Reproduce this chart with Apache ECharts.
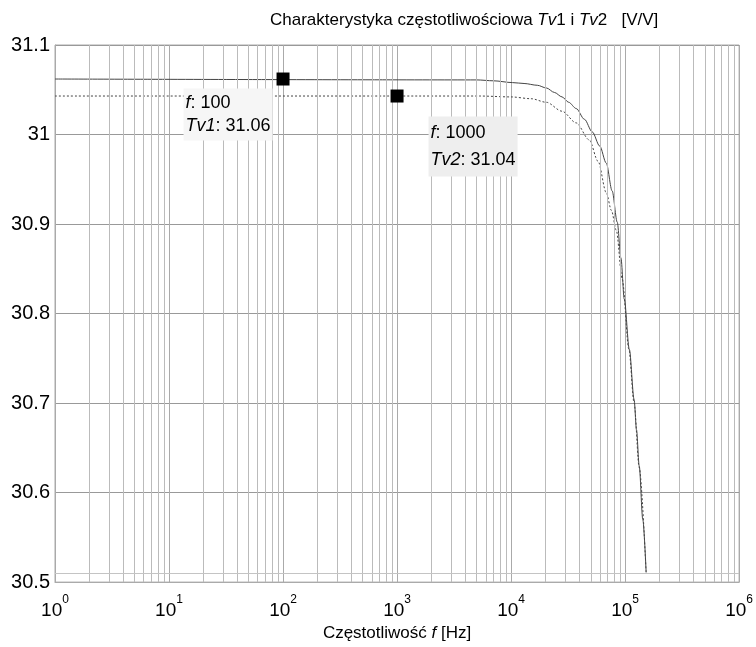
<!DOCTYPE html>
<html>
<head>
<meta charset="utf-8">
<script src="https://cdn.jsdelivr.net/npm/echarts@6/dist/echarts.min.js"></script>
<style>
  html, body { margin: 0; padding: 0; background: #fff; }
  #chart { width: 756px; height: 647px; }
</style>
</head>
<body>
<div id="chart"></div>
<script>
// Frequency response of the two amplifier stages, gain in V/V
const freqTv1 = [1, 5000, 7000, 10300, 13000, 17000, 20400, 24000, 28000, 32000, 37300, 44000, 51500, 60000, 68400, 77000, 85400, 92000, 98400, 109000, 120000, 126000, 133000, 143000, 153000];
const gainTv1 = [31.062, 31.061, 31.060, 31.058, 31.057, 31.055, 31.052, 31.047, 31.042, 31.036, 31.029, 31.017, 31.003, 30.987, 30.968, 30.937, 30.902, 30.862, 30.816, 30.760, 30.704, 30.670, 30.630, 30.570, 30.511];

const freqTv2 = [1, 5300, 10000, 15000, 20400, 28000, 37300, 48500, 58000, 68400, 76000, 83700, 94500, 108000, 120000, 133000, 153000];
const gainTv2 = [31.043, 31.043, 31.042, 31.040, 31.036, 31.026, 31.013, 30.994, 30.970, 30.935, 30.915, 30.893, 30.838, 30.760, 30.700, 30.628, 30.510];

// Data tips: [frequency, gain, series label]
const tipTv1 = [100, 31.062, 'Tv1'];
const tipTv2 = [1000, 31.043, 'Tv2'];

// Axis ticks
const decadeExponents = [0, 1, 2, 3, 4, 5, 6];
const gainMin = 30.5, gainMax = 31.1, gainStep = 0.1;
const refLevel = 30.514;

// Intermediate log grid lines (2..9 within each decade)
const minorFreqs = [];
decadeExponents.slice(0, -1).forEach(e => {
  for (let m = 2; m <= 9; m++) minorFreqs.push(m * Math.pow(10, e));
});

const FONT = '"Liberation Sans", Arial, Helvetica, sans-serif';
const chart = echarts.init(document.getElementById('chart'), null, { renderer: 'canvas' });

function tipLabel(pos, bg, lh) {
  return {
    show: true,
    position: pos,
    fontFamily: FONT,
    fontSize: 18,
    color: '#000',
    lineHeight: lh,
    backgroundColor: bg,
    padding: [3, 2, 3, 2],
    formatter: p => `{i|f}: ${p.value[0]}\n{i|${p.value[2]}}: ${p.value[1].toFixed(2)}`,
    rich: {
      i: { fontStyle: 'italic', fontFamily: FONT, fontSize: 18, color: '#000', lineHeight: lh }
    }
  };
}

const option = {
  animation: false,
  backgroundColor: '#ffffff',
  title: {
    text: 'Charakterystyka częstotliwościowa {i|Tv}1 i {i|Tv}2   [V/V]',
    left: 265,
    top: 7,
    textStyle: {
      fontFamily: FONT, fontSize: 17, fontWeight: 'normal', color: '#000',
      rich: { i: { fontFamily: FONT, fontSize: 17, fontStyle: 'italic', color: '#000' } }
    }
  },
  grid: {
    left: 55, right: 16, top: 45, bottom: 64,
    show: true, borderColor: '#aaa', borderWidth: 1
  },
  xAxis: {
    type: 'log',
    logBase: 10,
    min: 1,
    max: 1e6,
    name: 'Częstotliwość {i|f} [Hz]',
    nameLocation: 'middle',
    nameGap: 42,
    nameTextStyle: {
      fontFamily: FONT, fontSize: 17, color: '#000',
      rich: { i: { fontFamily: FONT, fontSize: 17, fontStyle: 'italic', color: '#000' } }
    },
    axisLine: { show: true, lineStyle: { color: '#aaa', width: 1 } },
    axisTick: { show: false },
    splitLine: { show: true, lineStyle: { color: '#aaa', width: 1 } },
    axisLabel: {
      margin: 12,
      formatter: v => {
        const e = Math.round(Math.log10(v));
        return '{b|10}{s|' + e + '}';
      },
      rich: {
        b: { fontFamily: FONT, fontSize: 19, color: '#000', lineHeight: 26, verticalAlign: 'bottom' },
        s: { fontFamily: FONT, fontSize: 12, color: '#000', lineHeight: 26, verticalAlign: 'top' }
      }
    }
  },
  yAxis: {
    type: 'value',
    min: gainMin,
    max: gainMax,
    interval: gainStep,
    axisLine: { show: true, lineStyle: { color: '#aaa', width: 1 } },
    axisTick: { show: false },
    splitLine: { show: true, lineStyle: { color: '#999', width: 1 } },
    axisLabel: {
      margin: 5,
      fontFamily: FONT,
      fontSize: 20,
      color: '#000',
      formatter: v => String(+v.toFixed(1))
    }
  },
  series: [
    {
      // intermediate grid lines and the reference level
      type: 'line',
      data: [],
      z: 1,
      silent: true,
      markLine: {
        silent: true,
        symbol: 'none',
        label: { show: false },
        animation: false,
        lineStyle: { color: '#bbb', type: 'solid', width: 1 },
        data: minorFreqs.map(f => ({ xAxis: f }))
          .concat([{ yAxis: refLevel, lineStyle: { color: '#c4c4c4', type: 'solid', width: 1 } }])
      }
    },
    {
      name: 'Tv1',
      type: 'line',
      z: 3,
      data: freqTv1.map((f, i) => [f, gainTv1[i]]),
      showSymbol: false,
      clip: true,
      smooth: 0.3,
      smoothMonotone: 'x',
      lineStyle: { color: '#444', width: 1, type: 'solid' }
    },
    {
      name: 'Tv2',
      type: 'line',
      z: 3,
      data: freqTv2.map((f, i) => [f, gainTv2[i]]),
      showSymbol: false,
      clip: true,
      smooth: 0.3,
      smoothMonotone: 'x',
      lineStyle: { color: '#444', width: 1, type: [2, 2] }
    },
    {
      name: 'tips',
      type: 'scatter',
      z: 5,
      symbol: 'rect',
      symbolSize: 13,
      itemStyle: { color: '#000', opacity: 1 },
      data: [
        { value: tipTv1, label: tipLabel([-93, 16], '#f6f6f6', 23) },
        { value: tipTv2, label: tipLabel([38, 27], '#eeeeee', 27) }
      ]
    }
  ]
};

chart.setOption(option);
</script>
</body>
</html>
